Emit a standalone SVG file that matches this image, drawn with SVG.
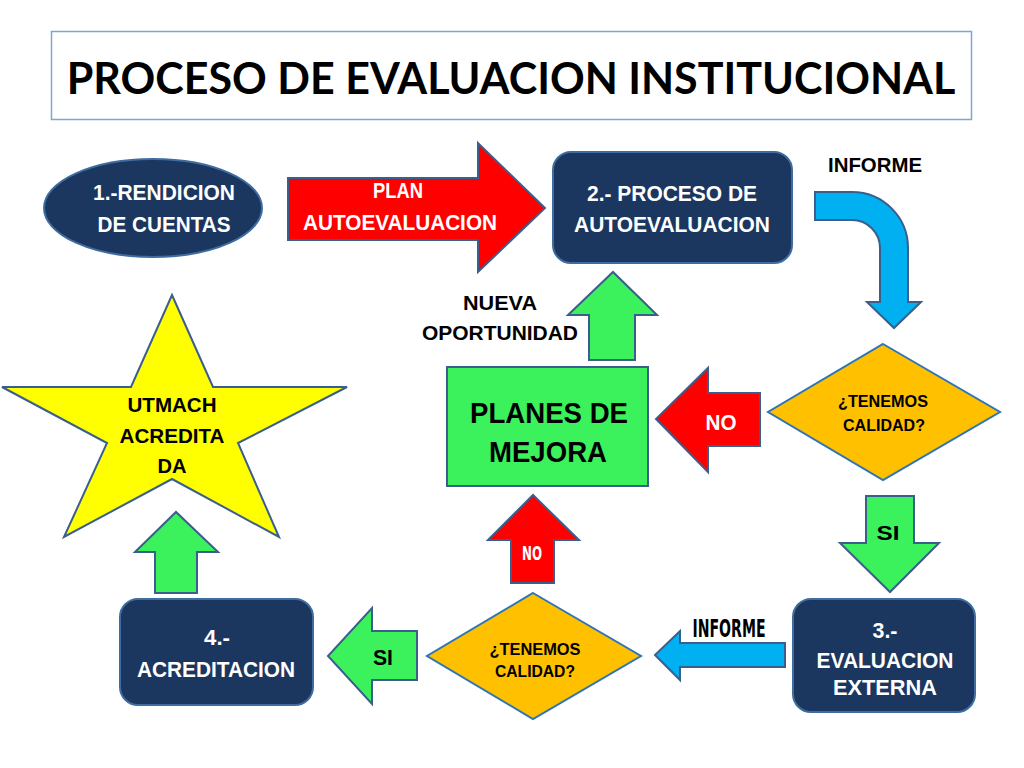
<svg xmlns="http://www.w3.org/2000/svg" width="1024" height="768" viewBox="0 0 1024 768">
<style>
.lbl{font-family:"Liberation Sans",Arial,sans-serif;font-weight:bold;text-anchor:middle}
.w{fill:#ffffff}
.k{fill:#000000}
.cond{font-family:"DejaVu Sans Condensed","DejaVu Sans",sans-serif;font-weight:bold;text-anchor:middle}
.navy{fill:#1B375F;stroke:#3F6DA0;stroke-width:2}
.arr{stroke:#3A5F8C;stroke-width:2;stroke-linejoin:miter}
.red{fill:#FF0000}
.grn{fill:#3CF25C}
.blu{fill:#00B0F0}
.dia{fill:#FFC000;stroke:#2E75B6;stroke-width:2}
</style>
<rect width="1024" height="768" fill="#ffffff"/>
<g id="title">
<rect x="51.5" y="31.5" width="920" height="88" fill="#ffffff" stroke="#7BA7D4" stroke-width="1.5"/>
<text x="511" y="94" font-family="Lato,'Open Sans','Liberation Sans',sans-serif" font-weight="bold" font-size="43" text-anchor="middle">PROCESO DE EVALUACION INSTITUCIONAL</text>
</g>
<g id="connectors">
<g id="arrow-plan">
<polygon class="arr red" points="288,178 478,178 478,143 545,208 478,272 478,240 288,240"/>
<text class="lbl w" x="398" y="198" font-size="22" textLength="50" lengthAdjust="spacingAndGlyphs">PLAN</text>
<text class="lbl w" x="400" y="230" font-size="22" textLength="194" lengthAdjust="spacingAndGlyphs">AUTOEVALUACION</text>
</g>
<g id="arrow-informe-1">
<path class="arr blu" d="M815,192 H852 A56,56 0 0 1 908,248 V302 H921 L894,328 L867,302 H880 V248 A28,28 0 0 0 852,220 H815 Z"/>
<text class="lbl k" x="875" y="172" font-size="21" textLength="94" lengthAdjust="spacingAndGlyphs">INFORME</text>
</g>
<g id="arrow-no-1">
<polygon class="arr red" points="760,393 708,393 708,368 656,419 708,472 708,446 760,446"/>
<text class="lbl w" x="721" y="430" font-size="22" textLength="31" lengthAdjust="spacingAndGlyphs">NO</text>
</g>
<g id="arrow-nueva">
<polygon class="arr grn" points="589,360 589,315 568,315 613,272 657,315 635,315 635,360"/>
<text class="lbl k" x="500" y="310" font-size="20" textLength="74" lengthAdjust="spacingAndGlyphs">NUEVA</text>
<text class="lbl k" x="500" y="340" font-size="20" textLength="156" lengthAdjust="spacingAndGlyphs">OPORTUNIDAD</text>
</g>
<g id="arrow-si-1">
<polygon class="arr grn" points="866,496 914,496 914,543 939,543 890,592 840,543 866,543"/>
<text class="lbl k" x="888" y="540" font-size="21" textLength="23" lengthAdjust="spacingAndGlyphs">SI</text>
</g>
<g id="arrow-informe-2">
<polygon class="arr blu" points="785,643 680,643 680,631 655,655 680,680 680,667 785,667"/>
<text class="cond k" x="729" y="637" font-size="24" textLength="73" lengthAdjust="spacingAndGlyphs">INFORME</text>
</g>
<g id="arrow-no-2">
<polygon class="arr red" points="511,583 511,540 488,540 533,495 579,540 554,540 554,583"/>
<text class="cond w" x="532" y="560" font-size="20" textLength="20" lengthAdjust="spacingAndGlyphs">NO</text>
</g>
<g id="arrow-si-2">
<polygon class="arr grn" points="417,631 372,631 372,608 328,656 372,704 372,680 417,680"/>
<text class="lbl k" x="383" y="665" font-size="22" textLength="20" lengthAdjust="spacingAndGlyphs">SI</text>
</g>
<g id="arrow-acredita">
<polygon class="arr grn" points="155,593 155,552 135,552 176,512 218,552 197,552 197,593"/>
</g>
</g>
<g id="node-rendicion">
<ellipse class="navy" cx="153" cy="208" rx="109" ry="49"/>
<text class="lbl w" x="164" y="200" font-size="22" textLength="142" lengthAdjust="spacingAndGlyphs">1.-RENDICION</text>
<text class="lbl w" x="164" y="232" font-size="22" textLength="133" lengthAdjust="spacingAndGlyphs">DE CUENTAS</text>
</g>
<g id="node-autoevaluacion">
<rect class="navy" x="553" y="152" width="239" height="111" rx="18"/>
<text class="lbl w" x="672" y="201" font-size="22" textLength="170" lengthAdjust="spacingAndGlyphs">2.- PROCESO DE</text>
<text class="lbl w" x="672" y="232" font-size="22" textLength="196" lengthAdjust="spacingAndGlyphs">AUTOEVALUACION</text>
</g>
<g id="node-calidad-1">
<polygon class="dia" points="883,344 1000,412 883,480 768,412"/>
<text class="lbl k" x="883" y="407" font-size="17" fill="#1a1a1a" textLength="90" lengthAdjust="spacingAndGlyphs">¿TENEMOS</text>
<text class="lbl k" x="884" y="431" font-size="17" fill="#1a1a1a" textLength="82" lengthAdjust="spacingAndGlyphs">CALIDAD?</text>
</g>
<g id="node-planes">
<rect x="447" y="367" width="201" height="119" fill="#3CF25C" stroke="#3A5F8C" stroke-width="2"/>
<text class="lbl k" x="549" y="423" font-size="30" textLength="158" lengthAdjust="spacingAndGlyphs">PLANES DE</text>
<text class="lbl k" x="548" y="462" font-size="30" textLength="118" lengthAdjust="spacingAndGlyphs">MEJORA</text>
</g>
<g id="node-evaluacion-externa">
<rect class="navy" x="793" y="599" width="182" height="113" rx="18"/>
<text class="lbl w" x="885" y="638" font-size="22" textLength="25" lengthAdjust="spacingAndGlyphs">3.-</text>
<text class="lbl w" x="885" y="668" font-size="22" textLength="137" lengthAdjust="spacingAndGlyphs">EVALUACION</text>
<text class="lbl w" x="885" y="695" font-size="22" textLength="104" lengthAdjust="spacingAndGlyphs">EXTERNA</text>
</g>
<g id="node-calidad-2">
<polygon class="dia" points="533,593 641,656 533,719 427,656"/>
<text class="lbl k" x="535" y="655" font-size="17" fill="#1a1a1a" textLength="91" lengthAdjust="spacingAndGlyphs">¿TENEMOS</text>
<text class="lbl k" x="535" y="677" font-size="17" fill="#1a1a1a" textLength="80" lengthAdjust="spacingAndGlyphs">CALIDAD?</text>
</g>
<g id="node-acreditacion">
<rect class="navy" x="120" y="599" width="193" height="106" rx="18"/>
<text class="lbl w" x="217" y="645" font-size="22" textLength="26" lengthAdjust="spacingAndGlyphs">4.-</text>
<text class="lbl w" x="216" y="677" font-size="22" textLength="158" lengthAdjust="spacingAndGlyphs">ACREDITACION</text>
</g>
<g id="node-utmach">
<polygon points="172,295 213,387 347,387 238,443 279,537 172,479 64,537 107,443 2,387 131,387" fill="#FFFF00" stroke="#3A5F8C" stroke-width="2"/>
<text class="lbl k" x="172" y="412" font-size="21" textLength="89" lengthAdjust="spacingAndGlyphs">UTMACH</text>
<text class="lbl k" x="172" y="443" font-size="21" textLength="105" lengthAdjust="spacingAndGlyphs">ACREDITA</text>
<text class="lbl k" x="172" y="473" font-size="21" textLength="29" lengthAdjust="spacingAndGlyphs">DA</text>
</g>
</svg>
